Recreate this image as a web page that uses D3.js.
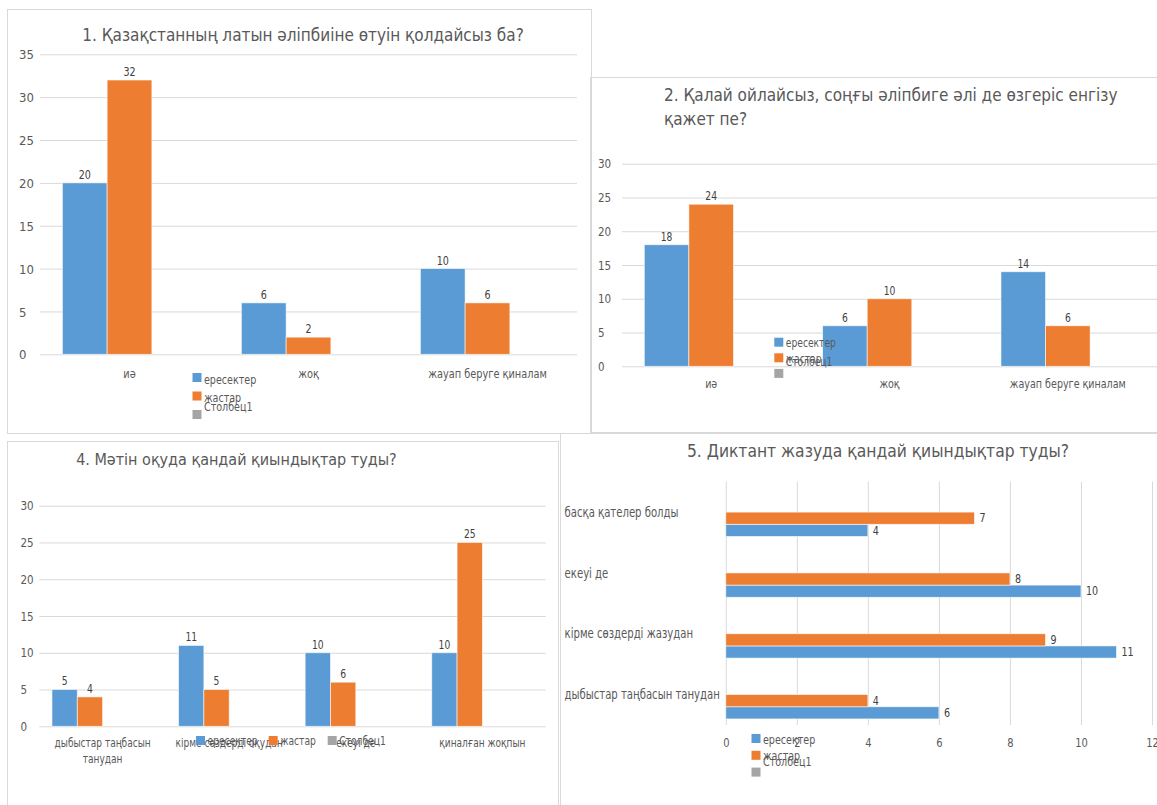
<!DOCTYPE html>
<html lang="kk">
<head>
<meta charset="UTF-8">
<title>Сауалнама нәтижелері</title>
<script src="https://cdn.jsdelivr.net/npm/d3@7"></script>
<style>
  body { margin: 0; background: #fff; }
  svg { display: block; }
  text { font-family: "DejaVu Sans Condensed", "DejaVu Sans", sans-serif; fill: #595959; }
</style>
</head>
<body>
<script>
// ---- data ----
const seriesNames = ["ересектер", "жастар", "Столбец1"];

const title1 = "1. Қазақстанның латын әліпбиіне өтуін қолдайсыз ба?";
const cats1 = ["иә", "жоқ", "жауап беруге қиналам"];
const adults1 = [20, 6, 10];
const youth1 = [32, 2, 6];
const ticks1 = [0, 5, 10, 15, 20, 25, 30, 35];

const title2 = "2. Қалай ойлайсыз, соңғы әліпбиге әлі де өзгеріс енгізу қажет пе?";
const cats2 = ["иә", "жоқ", "жауап беруге қиналам"];
const adults2 = [18, 6, 14];
const youth2 = [24, 10, 6];
const ticks2 = [0, 5, 10, 15, 20, 25, 30];

const title4 = "4. Мәтін оқуда қандай қиындықтар туды?";
const cats4 = ["дыбыстар таңбасын танудан", "кірме сөздерді оқудан", "екеуі де", "қиналған жоқпын"];
const adults4 = [5, 11, 10, 10];
const youth4 = [4, 5, 6, 25];
const ticks4 = [0, 5, 10, 15, 20, 25, 30];

const title5 = "5. Диктант жазуда қандай қиындықтар туды?";
const cats5 = ["дыбыстар таңбасын танудан", "кірме сөздерді жазудан", "екеуі де", "басқа қателер болды"];
const adults5 = [6, 11, 10, 4];
const youth5 = [4, 9, 8, 7];
const ticks5 = [0, 2, 4, 6, 8, 10, 12];

const empty = arr => arr.map(() => null);   // Столбец1 has no values

const colors = ["#5b9bd5", "#ed7d31", "#a5a5a5"];
const grid = "#d9d9d9";
const SX = 0.85;   // horizontal squeeze for the small, narrow-looking labels

const svg = d3.select("body").append("svg").attr("width", 1157).attr("height", 805);

function panel(x, y, w, h) {
  svg.append("rect").attr("x", x + 0.5).attr("y", y + 0.5).attr("width", w).attr("height", h)
     .attr("fill", "none").attr("stroke", grid);
}

// wrap text of an svg <text> into tspans no wider than width
function wrap(sel, width, lh, k) {
  sel.each(function () {
    const t = d3.select(this);
    const words = t.text().split(" ");
    const x = t.attr("x") || 0;
    t.text(null);
    let line = [], ts = t.append("tspan").attr("x", x);
    words.forEach(w => {
      line.push(w);
      ts.text(line.join(" "));
      if (ts.node().getComputedTextLength() * k > width && line.length > 1) {
        line.pop();
        ts.text(line.join(" "));
        line = [w];
        ts = t.append("tspan").attr("x", x).attr("dy", lh).text(w);
      }
    });
  });
}

function legendV(o) {
  const g = svg.append("g");
  seriesNames.forEach((s, i) => {
    g.append("rect").attr("x", o.x).attr("y", o.y + i * o.step).attr("width", 9).attr("height", 9)
     .attr("fill", colors[i]);
    g.append("text").attr("class", "n").attr("x", o.x + 11.5).attr("y", o.y + i * o.step + 4.5 + o.textDy[i])
     .attr("dominant-baseline", "central").style("font-size", o.fs + "px").text(s);
  });
}

function columnChart(o) {
  const g = svg.append("g");
  const x0 = d3.scaleBand().domain(o.cats).range([o.left, o.right]);
  const x1 = d3.scaleBand().domain(d3.range(o.slots)).range([0, x0.bandwidth()]).paddingOuter(0.5);
  const y = d3.scaleLinear().domain([0, o.max]).range([o.bottom, o.top]);

  // gridlines + value ticks
  g.append("g").attr("transform", `translate(${o.left},0)`)
    .call(d3.axisLeft(y).tickValues(o.ticks).tickSize(-(o.right - o.left)))
    .call(a => a.select(".domain").remove())
    .call(a => a.selectAll("line").attr("stroke", grid))
    .call(a => a.selectAll("text").attr("x", o.yLabelX - o.left).attr("text-anchor", "start")
      .attr("dy", "0.35em").style("font-size", o.tickFs + "px").style("fill", "#595959"));

  o.series.forEach((vals, si) => {
    const d = vals.map((v, i) => ({ v, c: o.cats[i] })).filter(e => e.v != null);
    g.selectAll(null).data(d).join("rect")
      .attr("x", e => x0(e.c) + x1(si)).attr("width", x1.bandwidth())
      .attr("y", e => y(e.v)).attr("height", e => y(0) - y(e.v))
      .attr("fill", colors[si]).attr("stroke", "rgba(255,255,255,0.7)").attr("stroke-width", 0.8);
    g.selectAll(null).data(d).join("text").attr("class", "n")
      .attr("x", e => x0(e.c) + x1(si) + x1.bandwidth() / 2).attr("y", e => y(e.v) - 8)
      .attr("text-anchor", "middle").attr("dominant-baseline", "central")
      .style("font-size", o.valFs + "px").style("fill", "#404040").text(e => e.v);
  });

  // category labels
  g.append("g").attr("transform", `translate(0,${o.bottom})`)
    .call(d3.axisBottom(x0).tickSize(0))
    .call(a => a.select(".domain").remove())
    .call(a => a.selectAll("text").attr("class", "n").attr("y", o.catDy).attr("dy", "0.35em")
      .style("font-size", o.catFs + "px").style("fill", "#595959")
      .call(wrap, x0.bandwidth() - 4, o.catLh || o.catFs * 1.3, SX));

  // title
  const t = svg.append("text").attr("x", o.titleX).attr("y", o.titleY)
    .attr("text-anchor", o.titleAnchor).attr("dominant-baseline", "central")
    .style("font-size", o.titleFs + "px").text(o.title);
  if (o.titleWrap) t.call(wrap, o.titleWrap, o.titleLh, 1);
}

// ---- chart 1 ----
panel(7, 9, 584, 424);
columnChart({
  cats: cats1, series: [adults1, youth1, empty(cats1)], slots: 3, max: 35, ticks: ticks1,
  left: 40, right: 577, top: 54.3, bottom: 354.3, yLabelX: 19, catDy: 19,
  tickFs: 13, valFs: 12.5, catFs: 12.8,
  title: title1, titleX: 303, titleY: 35, titleAnchor: "middle", titleFs: 17
});
legendV({ x: 192.5, y: 373, step: 18.5, textDy: [2, 2, -7.5], fs: 12.5 });

// ---- chart 2 ----
panel(590, 77, 580, 355);
columnChart({
  cats: cats2, series: [adults2, youth2, empty(cats2)], slots: 3, max: 30, ticks: ticks2,
  left: 622, right: 1157, top: 163.7, bottom: 366.3, yLabelX: 598, catDy: 17,
  tickFs: 11.5, valFs: 12, catFs: 12.5,
  title: title2, titleX: 664, titleY: 95, titleAnchor: "start", titleFs: 17,
  titleWrap: 470, titleLh: 24
});
legendV({ x: 774.3, y: 337.7, step: 15.6, textDy: [1, 1, -11.5], fs: 12 });

// ---- chart 4 ----
panel(7, 441, 551, 400);
columnChart({
  cats: cats4, series: [adults4, youth4, empty(cats4)], slots: 4, max: 30, ticks: ticks4,
  left: 39.3, right: 545.7, top: 505.7, bottom: 726.3, yLabelX: 20.5, catDy: 17, catLh: 15.7,
  tickFs: 11.5, valFs: 12, catFs: 11.8,
  title: title4, titleX: 236.4, titleY: 459, titleAnchor: "middle", titleFs: 16
});
{
  const lx = [196, 268.7, 327.7];
  const g = svg.append("g");
  seriesNames.forEach((s, i) => {
    g.append("rect").attr("x", lx[i]).attr("y", 736).attr("width", 9).attr("height", 9).attr("fill", colors[i]);
    g.append("text").attr("class", "n").attr("x", lx[i] + 11.5).attr("y", 741).attr("dominant-baseline", "central")
     .style("font-size", "12px").text(s);
  });
}

// ---- chart 5 (horizontal bars) ----
panel(560, 433, 600, 400);
{
  const o = { left: 725.8, right: 1152, top: 481.7, bottom: 725 };
  const g = svg.append("g");
  const x = d3.scaleLinear().domain([0, 12]).range([o.left, o.right]);
  const y0 = d3.scaleBand().domain(cats5).range([o.bottom, o.top]);
  const y1 = d3.scaleBand().domain(d3.range(4)).range([y0.bandwidth(), 0]).paddingOuter(0.5);

  g.append("g").attr("transform", `translate(0,${o.bottom})`)
    .call(d3.axisBottom(x).tickValues(ticks5).tickSize(-(o.bottom - o.top)))
    .call(a => a.select(".domain").remove())
    .call(a => a.selectAll("line").attr("stroke", grid))
    .call(a => a.selectAll("text").attr("class", "n").attr("y", 17.7).attr("dy", "0.35em")
      .style("font-size", "13px").style("fill", "#595959"));

  [adults5, youth5, empty(cats5)].forEach((vals, si) => {
    const d = vals.map((v, i) => ({ v, c: cats5[i] })).filter(e => e.v != null);
    g.selectAll(null).data(d).join("rect")
      .attr("x", x(0)).attr("width", e => x(e.v) - x(0))
      .attr("y", e => y0(e.c) + y1(si)).attr("height", y1.bandwidth())
      .attr("fill", colors[si]).attr("stroke", "rgba(255,255,255,0.7)").attr("stroke-width", 0.8);
    g.selectAll(null).data(d).join("text").attr("class", "n")
      .attr("x", e => x(e.v) + 5).attr("y", e => y0(e.c) + y1(si) + y1.bandwidth() / 2)
      .attr("dominant-baseline", "central").style("font-size", "12.5px").style("fill", "#404040")
      .text(e => e.v);
  });

  g.append("g").attr("transform", `translate(${o.left},0)`)
    .call(d3.axisLeft(y0).tickSize(0))
    .call(a => a.select(".domain").remove())
    .call(a => a.selectAll("text").attr("class", "n").attr("x", 564.6 - o.left).attr("text-anchor", "start")
      .attr("dy", "0.35em").style("font-size", "13.2px").style("fill", "#595959"));

  svg.append("text").attr("x", 878).attr("y", 450.7).attr("text-anchor", "middle")
    .attr("dominant-baseline", "central").style("font-size", "17.3px").text(title5);
}
legendV({ x: 751.5, y: 734, step: 16.8, textDy: [1.5, 0, -10.5], fs: 12.5 });

// squeeze the small labels horizontally around their anchor point
svg.selectAll("text.n").each(function () {
  const x = +this.getAttribute("x") || 0;
  this.setAttribute("transform", `translate(${x},0) scale(${SX},1) translate(${-x},0)`);
});
</script>
</body>
</html>
